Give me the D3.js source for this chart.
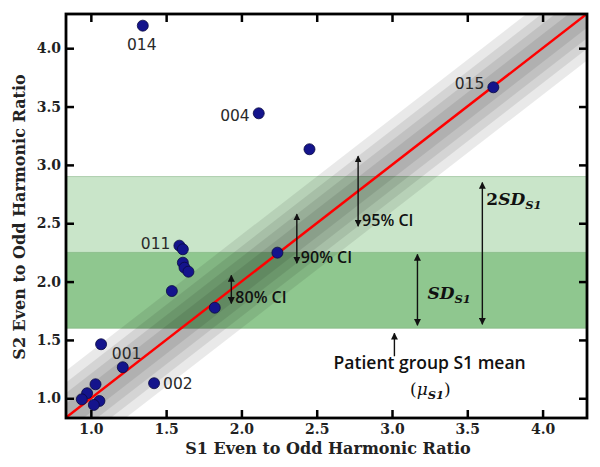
<!DOCTYPE html>
<html>
<head>
<meta charset="utf-8">
<script src="https://cdn.jsdelivr.net/npm/d3@7"></script>
<style>
  html, body { margin: 0; padding: 0; background: #fff; }
  svg { display: block; }
</style>
</head>
<body>
<svg id="chart" width="600" height="467"></svg>
<script>
// ---------------- DATA ----------------
const pointIds = ["014","004","","015","","011","","","","","","","","001","002","","","","",""];
const s1Ratio  = [1.345, 2.115, 2.452, 3.673, 2.239, 1.588, 1.611, 1.611, 1.622, 1.648, 1.538, 1.823, 1.068, 1.212, 1.420, 1.031, 0.975, 0.940, 1.057, 1.020];
const s2Ratio  = [4.193, 3.442, 3.134, 3.665, 2.248, 2.308, 2.277, 2.162, 2.119, 2.085, 1.919, 1.776, 1.463, 1.266, 1.129, 1.120, 1.043, 0.991, 0.977, 0.943];

const xTicks = [1.0, 1.5, 2.0, 2.5, 3.0, 3.5, 4.0];
const yTicks = [1.0, 1.5, 2.0, 2.5, 3.0, 3.5, 4.0];

const s1Mean = 1.6;
const s1SD = 0.65;

const bandHalfWidths = [0.40, 0.30, 0.21, 0.12];     // outer → inner
const ciLabels = ["80% CI", "90% CI", "95% CI"];
const ciHalfWidths = [0.12, 0.21, 0.30];
const ciArrowAtS1 = [1.933, 2.368, 2.775];

const xTitle = "S1 Even to Odd Harmonic Ratio";
const yTitle = "S2 Even to Odd Harmonic Ratio";
const meanLabel = "Patient group S1 mean";

// ---------------- LAYOUT ----------------
const plot = { left: 66, right: 587, top: 14, bottom: 418 };
const xDomain = [0.835, 4.295];
const yDomain = [0.831, 4.293];

const labelLayout = {
  "014": { anchor: "middle", dx: -1, dy: 24 },
  "004": { anchor: "end", dx: -9, dy: 7.5 },
  "015": { anchor: "end", dx: -9, dy: 2 },
  "011": { anchor: "end", dx: -9, dy: 3.5 },
  "001": { anchor: "start", dx: -11, dy: -8 },
  "002": { anchor: "start", dx: 9, dy: 6 }
};

const svg = d3.select("#chart");
const x = d3.scaleLinear().domain(xDomain).range([plot.left, plot.right]);
const y = d3.scaleLinear().domain(yDomain).range([plot.bottom, plot.top]);

const defs = svg.append("defs");
defs.append("clipPath").attr("id", "clip")
  .append("rect")
  .attr("x", plot.left).attr("y", plot.top)
  .attr("width", plot.right - plot.left).attr("height", plot.bottom - plot.top);

defs.append("marker")
  .attr("id", "ah")
  .attr("viewBox", "0 0 10 10")
  .attr("refX", 9).attr("refY", 5)
  .attr("markerWidth", 7).attr("markerHeight", 7)
  .attr("markerUnits", "userSpaceOnUse")
  .attr("orient", "auto-start-reverse")
  .append("path").attr("d", "M0,0 L10,5 L0,10 Z").attr("fill", "#111");

const g = svg.append("g").attr("clip-path", "url(#clip)");

// Green SD bands
g.append("rect")
  .attr("x", plot.left).attr("width", plot.right - plot.left)
  .attr("y", y(s1Mean + 2 * s1SD)).attr("height", y(s1Mean) - y(s1Mean + 2 * s1SD))
  .attr("fill", "#c9e5c9");
g.append("rect")
  .attr("x", plot.left).attr("width", plot.right - plot.left)
  .attr("y", y(s1Mean + s1SD)).attr("height", y(s1Mean) - y(s1Mean + s1SD))
  .attr("fill", "#8fc78f");
[s1Mean + 2 * s1SD, s1Mean + s1SD, s1Mean].forEach(v => {
  g.append("line")
    .attr("x1", plot.left).attr("x2", plot.right)
    .attr("y1", y(v)).attr("y2", y(v))
    .attr("stroke", "#7aae7a").attr("stroke-opacity", 0.5).attr("stroke-width", 1);
});

// Grey confidence bands around y = x
const xa = xDomain[0] - 1, xb = xDomain[1] + 1;
bandHalfWidths.forEach(w => {
  const p = [[xa, xa - w], [xb, xb - w], [xb, xb + w], [xa, xa + w]];
  g.append("path")
    .attr("d", "M" + p.map(q => x(q[0]) + "," + y(q[1])).join("L") + "Z")
    .attr("fill", "#000").attr("fill-opacity", 0.085);
});

// Identity line
g.append("line")
  .attr("x1", x(xa)).attr("y1", y(xa))
  .attr("x2", x(xb)).attr("y2", y(xb))
  .attr("stroke", "#ff0000").attr("stroke-width", 2.5);

// Points
const pts = s1Ratio.map((v, i) => ({ s1: v, s2: s2Ratio[i], id: pointIds[i] }));
svg.append("g").selectAll("circle").data(pts).join("circle")
  .attr("cx", d => x(d.s1)).attr("cy", d => y(d.s2)).attr("r", 5.5)
  .attr("fill", "#14148c").attr("stroke", "#0a0a40").attr("stroke-width", 0.8);

// Point labels
svg.append("g").selectAll("text").data(pts.filter(d => d.id)).join("text")
  .attr("x", d => x(d.s1) + labelLayout[d.id].dx)
  .attr("y", d => y(d.s2) + labelLayout[d.id].dy)
  .attr("text-anchor", d => labelLayout[d.id].anchor)
  .attr("font-family", "DejaVu Sans, sans-serif")
  .attr("font-size", 15.5)
  .attr("fill", "#2a2a2a")
  .text(d => d.id);

// Arrows
const ann = svg.append("g");
function dblArrow(px, py1, py2) {
  ann.append("line")
    .attr("x1", px).attr("x2", px).attr("y1", py1).attr("y2", py2)
    .attr("stroke", "#111").attr("stroke-width", 1.4)
    .attr("marker-start", "url(#ah)").attr("marker-end", "url(#ah)");
}
const ciFont = "'Open Sans', 'DejaVu Sans', sans-serif";
ciArrowAtS1.forEach((s, i) => {
  const w = ciHalfWidths[i];
  const px = x(s);
  dblArrow(px, y(s + w), y(s - w));
  ann.append("text")
    .attr("x", px + 4).attr("y", y(s - w))
    .attr("font-family", ciFont).attr("font-weight", 600).attr("font-size", 16)
    .attr("fill", "#111")
    .text(ciLabels[i]);
});

// SD arrows
const sdX = x(3.169), sd2X = x(3.60);
dblArrow(sdX, y(s1Mean + s1SD) + 2, y(s1Mean) - 3);
dblArrow(sd2X, y(s1Mean + 2 * s1SD) + 6, y(s1Mean) - 4);

function mathLabel(px, py, prefix, main, sub) {
  const t = ann.append("text").attr("x", px).attr("y", py)
    .attr("font-family", "'DejaVu Serif', serif").attr("fill", "#111");
  if (prefix) t.append("tspan").attr("font-weight", "bold").attr("font-size", 17).text(prefix);
  t.append("tspan").attr("font-style", "italic").attr("font-weight", "bold").attr("font-size", 17).text(main);
  t.append("tspan").attr("font-style", "italic").attr("font-weight", "bold").attr("font-size", 11.5).attr("dy", 4).text(sub);
  return t;
}
mathLabel(sdX + 10, (y(s1Mean) + y(s1Mean + s1SD)) / 2 + 9, "", "SD", "S1");
mathLabel(sd2X + 4, y(s1Mean + 2 * s1SD) + 28, "2", "SD", "S1");

// Mean arrow
const meanX = x(3.016);
ann.append("line")
  .attr("x1", meanX).attr("x2", meanX)
  .attr("y1", y(s1Mean) + 28).attr("y2", y(s1Mean) + 5)
  .attr("stroke", "#111").attr("stroke-width", 1.4)
  .attr("marker-end", "url(#ah)");
ann.append("text")
  .attr("x", x(3.25)).attr("y", y(s1Mean) + 41)
  .attr("text-anchor", "middle")
  .attr("font-family", ciFont).attr("font-weight", 600).attr("font-size", 17.5)
  .attr("fill", "#111").text(meanLabel);
const mu = ann.append("text")
  .attr("x", x(3.255)).attr("y", y(s1Mean) + 67)
  .attr("text-anchor", "middle")
  .attr("font-family", "'DejaVu Serif', serif").attr("fill", "#111");
mu.append("tspan").attr("font-size", 17).text("(");
mu.append("tspan").attr("font-size", 17).attr("font-style", "italic").text("μ");
mu.append("tspan").attr("font-size", 11.5).attr("font-style", "italic").attr("font-weight", "bold").attr("dy", 4).text("S1");
mu.append("tspan").attr("font-size", 17).attr("dy", -4).text(")");

// Axes
const tickFmt = d3.format(".1f");
const axG = svg.append("g");
const axBottom = axG.append("g").attr("transform", `translate(0,${plot.bottom})`)
  .call(d3.axisBottom(x).tickValues(xTicks).tickSize(-8).tickPadding(6).tickFormat(tickFmt));
const axTop = axG.append("g").attr("transform", `translate(0,${plot.top})`)
  .call(d3.axisTop(x).tickValues(xTicks).tickSize(-8).tickFormat(""));
const axLeft = axG.append("g").attr("transform", `translate(${plot.left},0)`)
  .call(d3.axisLeft(y).tickValues(yTicks).tickSize(-8).tickPadding(5).tickFormat(tickFmt));
const axRight = axG.append("g").attr("transform", `translate(${plot.right},0)`)
  .call(d3.axisRight(y).tickValues(yTicks).tickSize(-8).tickFormat(""));
[axBottom, axTop, axLeft, axRight].forEach(a => {
  a.select(".domain").remove();
  a.selectAll(".tick line").attr("stroke", "#000").attr("stroke-width", 2.5);
  a.selectAll(".tick text")
    .attr("font-family", "'DejaVu Serif', serif").attr("font-weight", "bold")
    .attr("font-size", 14).attr("fill", "#222");
});
axBottom.selectAll(".tick text").attr("dy", "0.71em");

axG.append("rect")
  .attr("x", plot.left).attr("y", plot.top)
  .attr("width", plot.right - plot.left).attr("height", plot.bottom - plot.top)
  .attr("fill", "none").attr("stroke", "#000").attr("stroke-width", 2.8);

// Titles
svg.append("text")
  .attr("x", (plot.left + plot.right) / 2 + 1.5).attr("y", 454)
  .attr("text-anchor", "middle")
  .attr("font-family", "'DejaVu Serif', serif").attr("font-weight", "bold")
  .attr("font-size", 16).attr("fill", "#222")
  .text(xTitle);
svg.append("text")
  .attr("transform", `translate(25,${(plot.top + plot.bottom) / 2 + 1}) rotate(-90)`)
  .attr("text-anchor", "middle")
  .attr("font-family", "'DejaVu Serif', serif").attr("font-weight", "bold")
  .attr("font-size", 16).attr("fill", "#222")
  .text(yTitle);
</script>
</body>
</html>
